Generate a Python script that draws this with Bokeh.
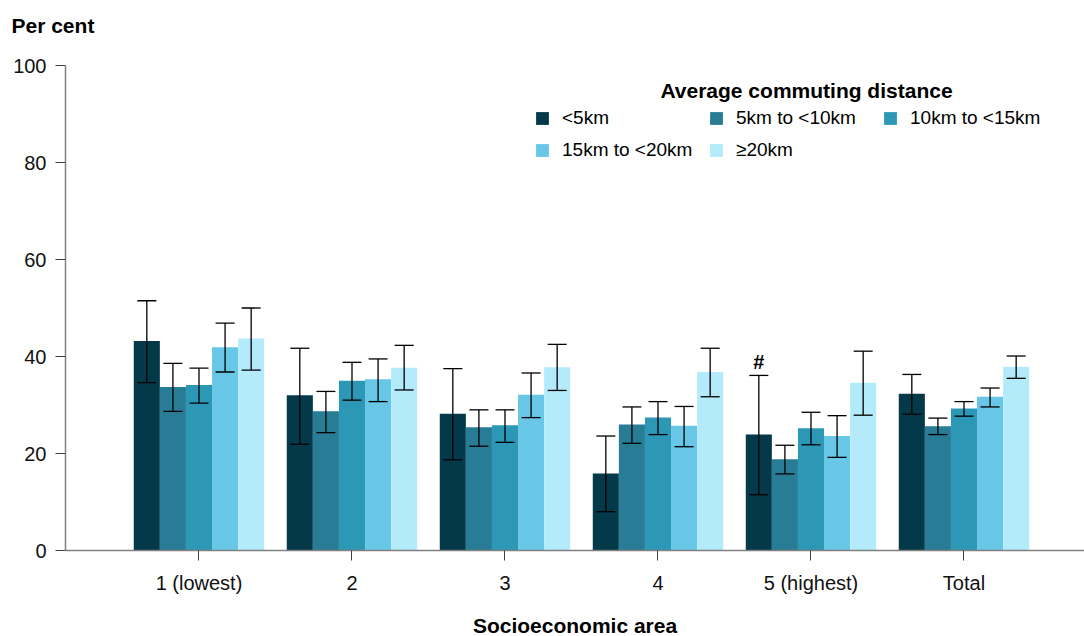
import numpy as np
from bokeh.plotting import figure
from bokeh.models import (ColumnDataSource, Range1d, FixedTicker, Whisker, TeeHead,
                          Legend, LegendItem, Label)
from bokeh.embed import file_html
from bokeh.resources import INLINE

# ---------------- data ----------------
categories = ["1 (lowest)", "2", "3", "4", "5 (highest)", "Total"]
series_names = ["<5km", "5km to <10km", "10km to <15km", "15km to <20km", "\u226520km"]
colors = ["#033948", "#297C96", "#2D97B6", "#68C6E6", "#B3EBFB"]

lt5 = [43.2, 32.0, 28.2, 15.9, 23.9, 32.3]
lt5_lo = [34.6, 21.9, 18.7, 8.0, 11.5, 28.1]
lt5_hi = [51.5, 41.7, 37.5, 23.6, 36.1, 36.3]

d5_10 = [33.7, 28.7, 25.4, 26.0, 18.8, 25.6]
d5_10_lo = [28.7, 24.3, 21.5, 22.1, 15.8, 23.9]
d5_10_hi = [38.6, 32.8, 29.0, 29.6, 21.7, 27.3]

d10_15 = [34.1, 35.0, 25.8, 27.4, 25.2, 29.3]
d10_15_lo = [30.4, 31.0, 22.3, 23.9, 21.8, 27.7]
d10_15_hi = [37.6, 38.8, 29.0, 30.7, 28.5, 30.7]

d15_20 = [41.9, 35.3, 32.1, 25.7, 23.6, 31.7]
d15_20_lo = [36.8, 30.7, 27.4, 21.4, 19.2, 29.6]
d15_20_hi = [46.9, 39.5, 36.6, 29.7, 27.8, 33.5]

ge20 = [43.7, 37.7, 37.8, 36.8, 34.6, 37.9]
ge20_lo = [37.2, 33.1, 33.0, 31.7, 27.9, 35.5]
ge20_hi = [50.0, 42.3, 42.5, 41.7, 41.1, 40.1]

y_ticks = [0, 20, 40, 60, 80, 100]
flag_text = "#"          # flagged estimate: <5km, 5 (highest)
flag_series, flag_cat = 0, 4

values = [lt5, d5_10, d10_15, d15_20, ge20]
lows = [lt5_lo, d5_10_lo, d10_15_lo, d15_20_lo, ge20_lo]
highs = [lt5_hi, d5_10_hi, d10_15_hi, d15_20_hi, ge20_hi]

# ---------------- layout (pixels) ----------------
W, H = 1084, 636
AX_LEFT, AX_TOP, AX_BOTTOM = 65, 65, 550      # where the axes sit on the canvas
CAT_PX = 153.0                                 # pixels per category
X0 = -0.8725                                   # x value at the y axis
ppu_y = (AX_BOTTOM - AX_TOP) / 100.0
x_start = X0 - AX_LEFT / CAT_PX
x_end = X0 + (W - AX_LEFT) / CAT_PX
y_start = -(H - AX_BOTTOM) / ppu_y
y_end = 100 + AX_TOP / ppu_y

FONT = "Liberation Sans"
p = figure(width=W, height=H, output_backend="svg", toolbar_location=None,
           x_range=Range1d(x_start, x_end), y_range=Range1d(y_start, y_end),
           min_border=0, background_fill_color="white", border_fill_color="white")
p.outline_line_color = None
p.grid.visible = False

bar_w = 0.1705
idx = np.arange(len(categories))
items = []
for k in range(5):
    xs = idx + (k - 2) * bar_w
    src = ColumnDataSource(dict(x=xs, top=values[k], lo=lows[k], hi=highs[k]))
    r = p.vbar(x="x", top="top", width=bar_w, bottom=0, source=src,
               fill_color=colors[k], line_color=None)
    items.append(LegendItem(label=series_names[k], renderers=[r]))
    w = Whisker(base="x", lower="lo", upper="hi", source=src, dimension="height",
                level="overlay", line_color="black", line_width=1.3,
                upper_head=TeeHead(size=19, line_color="black", line_width=1.3),
                lower_head=TeeHead(size=19, line_color="black", line_width=1.3))
    p.add_layout(w)

# flag
p.add_layout(Label(x=idx[flag_cat] + (flag_series - 2) * bar_w, y=highs[flag_series][flag_cat],
                   text=flag_text, text_align="center", text_baseline="bottom", y_offset=2,
                   text_font=FONT, text_font_style="bold", text_font_size="20px",
                   text_color="black"))

# axes (pinned at x = X0 and y = 0)
xa = p.xaxis[0]
xa.fixed_location = 0
xa.bounds = (X0, x_end)
xa.ticker = FixedTicker(ticks=list(idx))
xa.major_label_overrides = {int(i): c for i, c in zip(idx, categories)}
xa.axis_line_color = "#808080"
xa.axis_line_width = 1.5
xa.major_tick_line_color = "#404040"
xa.major_tick_out = 10
xa.major_tick_in = 0
xa.minor_tick_line_color = None
xa.major_label_text_font = FONT
xa.major_label_text_font_size = "20px"
xa.major_label_text_color = "#111111"
xa.major_label_standoff = 11
xa.axis_label = "Socioeconomic area"
xa.axis_label_text_font = FONT
xa.axis_label_text_font_style = "bold"
xa.axis_label_text_font_size = "21px"
xa.axis_label_text_color = "black"
xa.axis_label_standoff = 17

ya = p.yaxis[0]
ya.fixed_location = X0
ya.bounds = (0, 100)
ya.ticker = FixedTicker(ticks=y_ticks)
ya.axis_line_color = "#808080"
ya.axis_line_width = 1.5
ya.major_tick_line_color = "#404040"
ya.major_tick_out = 10
ya.major_tick_in = 0
ya.minor_tick_line_color = None
ya.major_label_text_font = FONT
ya.major_label_text_font_size = "20px"
ya.major_label_text_color = "#111111"
ya.major_label_standoff = 9

p.add_layout(Label(x=11, y=H - 25, x_units="screen", y_units="screen", text="Per cent",
                   text_align="left", text_baseline="middle", text_font=FONT,
                   text_font_style="bold", text_font_size="21px", text_color="black"))

# legend
p.add_layout(Label(x=806, y=H - 90, x_units="screen", y_units="screen",
                   text="Average commuting distance", text_align="center",
                   text_baseline="middle", text_font=FONT, text_font_style="bold",
                   text_font_size="21px", text_color="black"))
legend = Legend(items=items, location=(534, H - 161), orientation="horizontal", ncols=3,
                glyph_width=16, glyph_height=16, label_standoff=12, label_width=136,
                spacing=10, padding=0, margin=0, border_line_color=None,
                background_fill_alpha=0, label_text_font=FONT, label_text_font_size="19px",
                label_text_color="black")
p.add_layout(legend)

open("out.html", "w").write(file_html(p, INLINE))
